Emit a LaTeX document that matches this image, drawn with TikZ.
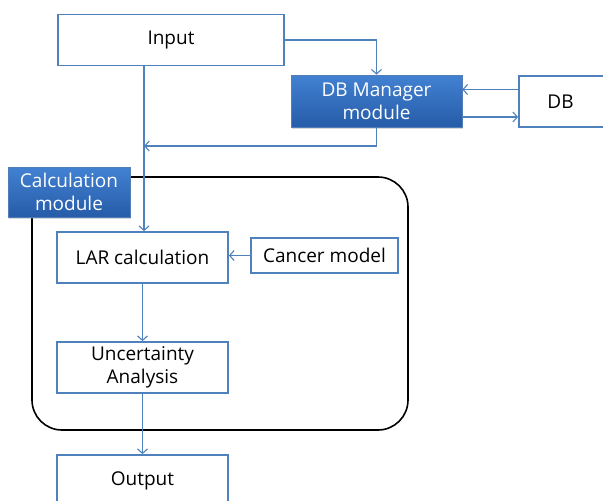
\documentclass[tikz,border=0pt]{standalone}
\usepackage{fontspec}
\setmainfont{Open Sans}
\usepackage{tikz}
\usetikzlibrary{arrows.meta, positioning, calc, shadows}
\definecolor{azul}{RGB}{79,129,189}
\definecolor{azularriba}{RGB}{66,129,210}
\definecolor{azulabajo}{RGB}{38,92,168}

\begin{document}
\begin{tikzpicture}[x=1pt, y=-1pt,
        caja/.style={rectangle, draw=azul, line width=1.8pt, fill=white, align=center, font=\fontsize{19}{23}\selectfont, inner sep=0pt},
        modulo/.style={rectangle, draw=azulabajo!80, line width=0.6pt, top color=azularriba, bottom color=azulabajo, text=white, align=center, font=\fontsize{19}{23}\selectfont, inner sep=0pt, drop shadow={opacity=0.3, shadow xshift=1pt, shadow yshift=-1.5pt}},
        grupo/.style={rectangle, rounded corners=30pt, draw=black, line width=1.6pt},
        flecha/.style={-{Straight Barb[length=4.5pt, width=10pt]}, draw=azul, line width=1.1pt}]

        \useasboundingbox (0,0) rectangle (603,501);

        % Calculation module frame
        \node[grupo, minimum width=376pt, minimum height=253pt] (marco) at (220,303.5) {};

        \node[caja, minimum width=226pt, minimum height=51pt] (in) at (171,40) {Input};
        \node[modulo, minimum width=171pt, minimum height=52pt] (dbm) at (376.5,101) {DB Manager\\module};
        \node[caja, minimum width=92pt, minimum height=51pt] (db) at (565,101.5) {\hspace*{-9pt}DB};
        \node[modulo, minimum width=122pt, minimum height=50pt] (calc) at (69,192) {Calculation\\module};
        \node[caja, minimum width=171pt, minimum height=51pt] (lar) at (142.5,257.5) {LAR calculation};
        \node[caja, minimum width=147pt, minimum height=35pt] (cancer) at (324.5,255.5) {Cancer model};
        \node[caja, minimum width=171pt, minimum height=51pt] (unc) at (142.5,367.5) {Uncertainty\\Analysis};
        \node[caja, minimum width=171pt, minimum height=51pt] (out) at (142.5,480.5) {Output};

        \coordinate (junta) at (144,146);

        \draw[flecha] (in.east) -| (dbm.north);
        \draw[flecha] (in.south -| junta) -- (lar.north -| junta);
        \draw[flecha] ([yshift=12pt]db.west) -- ([yshift=12pt]db.west -| dbm.east);
        \draw[flecha] ([yshift=-16pt]dbm.east) -- ([yshift=-16pt]dbm.east -| db.west);
        \draw[flecha] (dbm.south) |- (junta);
        \draw[flecha] (cancer.west) -- (cancer.west -| lar.east);
        \draw[flecha] (lar.south) -- (unc.north);
        \draw[flecha] (unc.south) -- (out.north);
    \end{tikzpicture}
\end{document}
